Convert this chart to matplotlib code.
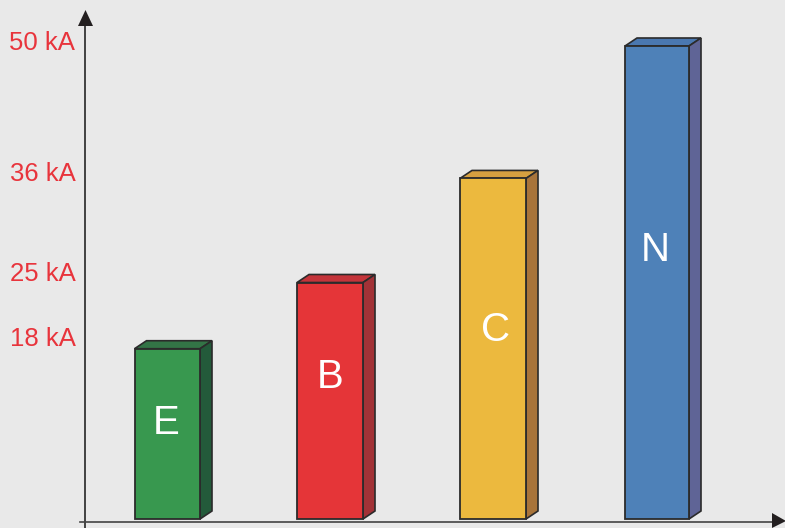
"""Bar chart of breaking capacity per frame letter, drawn with a fake 3D depth."""

import matplotlib
matplotlib.use('Agg')
import matplotlib.pyplot as plt
from matplotlib.patches import Polygon

plt.rcParams['font.family'] = ['Liberation Sans', 'DejaVu Sans']

# data
letters = ['E', 'B', 'C', 'N']
current_ka = [18, 25, 36, 50]
tick_labels = ['18 kA', '25 kA', '36 kA', '50 kA']

# colours: front, top, side
front_colors = ['#38984f', '#e53538', '#ecb93e', '#4e81b8']
top_colors = ['#337446', '#c4343a', '#d6a040', '#4a78b0']
side_colors = ['#235a3a', '#a23237', '#a8743a', '#5f6496']
bg = '#e9e9e9'
edge = '#2b2b2b'
label_red = '#e8343c'

# layout, in pixels of the 785x528 picture
W, H = 785, 528
base_px = 519.0
px_per_ka = 9.46
bar_left_px = [134.5, 297, 460, 625]
bar_width_px = [65.5, 66, 66, 64]
depth_x, depth_y = 12, 8
letter_xy_px = [(166, 423), (330, 377), (496, 330), (655, 250)]
tick_y_px = [339, 274, 174, 43]
tick_right_px = [76, 76, 76, 75]

fig = plt.figure(figsize=(W / 100, H / 100), dpi=100, facecolor=bg)
ax = fig.add_axes([0, 0, 1, 1])
ax.set_facecolor(bg)
ax.set_xlim(0, W)
# y axis runs in kA so the bar heights come straight from the values
ax.set_ylim(-(H - base_px) / px_per_ka, base_px / px_per_ka)
ax.axis('off')


def ky(py):
    """pixel row -> kA"""
    return (base_px - py) / px_per_ka


for i, val in enumerate(current_ka):
    x0 = bar_left_px[i]
    x1 = x0 + bar_width_px[i]
    dy = depth_y / px_per_ka
    ax.add_patch(Polygon([(x0, 0), (x1, 0), (x1, val), (x0, val)], closed=True,
                         facecolor=front_colors[i], edgecolor=edge, lw=1.3, joinstyle='miter', zorder=3))
    ax.add_patch(Polygon([(x0, val), (x1, val), (x1 + depth_x, val + dy), (x0 + depth_x, val + dy)], closed=True,
                         facecolor=top_colors[i], edgecolor=edge, lw=1.2, joinstyle='miter', zorder=2))
    ax.add_patch(Polygon([(x1, 0), (x1, val), (x1 + depth_x, val + dy), (x1 + depth_x, dy)], closed=True,
                         facecolor=side_colors[i], edgecolor=edge, lw=1.2, joinstyle='miter', zorder=2))
    lx, ly = letter_xy_px[i]
    ax.text(lx, ky(ly), letters[i], color='white', fontsize=29, ha='center', va='center', zorder=4)

for lab, py, rx in zip(tick_labels, tick_y_px, tick_right_px):
    ax.text(rx, ky(py), lab, color=label_red, fontsize=18.5, ha='right', va='center')

# axes lines and arrow heads
ax.plot([85.3, 85.3], [ky(528), ky(24)], color='#151515', lw=1.1, zorder=5)
ax.plot([80, 773], [ky(522), ky(522)], color='#444444', lw=1.2, zorder=5)
ax.add_patch(Polygon([(85.5, ky(10)), (78, ky(26)), (93, ky(26))], closed=True,
                     facecolor='#231f20', edgecolor='none', zorder=6))
ax.add_patch(Polygon([(772, ky(513)), (772, ky(528)), (786, ky(521))], closed=True,
                     facecolor='#231f20', edgecolor='none', zorder=6))

fig.savefig('out.png', dpi=100, facecolor=bg)
